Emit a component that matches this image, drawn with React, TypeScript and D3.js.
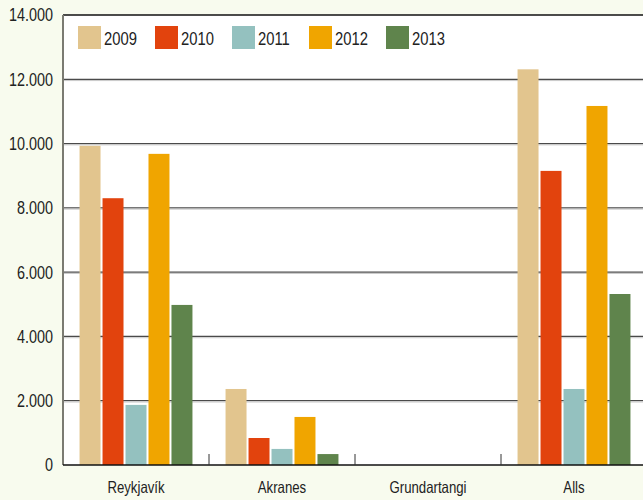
import React from 'react';
import * as d3 from 'd3';

const categories = ['Reykjavík', 'Akranes', 'Grundartangi', 'Alls'];
const years = ['2009', '2010', '2011', '2012', '2013'];
const colors = ['#E2C58E', '#E2430D', '#94C1BF', '#F0A500', '#5F844C'];

// values per category, in the order of years
const reykjavik = [9930, 8300, 1870, 9680, 4980];
const akranes = [2365, 840, 500, 1495, 340];
const grundartangi = [0, 0, 0, 0, 0];
const alls = [12310, 9150, 2365, 11170, 5320];
const seriesByCategory = [reykjavik, akranes, grundartangi, alls];

const yTicks = [0, 2000, 4000, 6000, 8000, 10000, 12000, 14000];

const W = 643;
const H = 500;
const left = 63;
const top = 15;
const bottom = 465;
const font = '"Liberation Sans", Arial, sans-serif';

// no narrow face installed, so squeeze a regular one horizontally
function Narrow({ x, y, children, anchor = 'start', size, dy }: {
    x: number; y: number; children: React.ReactNode; anchor?: string; size: number; dy?: string;
}) {
    return (
        <text transform={`translate(${x},${y}) scale(0.8,1)`} textAnchor={anchor} fontSize={size}
            dy={dy} fill="#222">
            {children}
        </text>
    );
}

export default function App() {
    const x = d3.scaleBand<string>().domain(categories).range([left, left + 146 * 4]);
    const inner = d3.scaleBand<string>().domain(years).range([0, x.bandwidth()])
        .paddingInner(0.087).paddingOuter(0.72);
    const y = d3.scaleLinear().domain([0, 14000]).range([bottom, top]);
    const fmt = (v: number) => d3.format(',')(v).replace(/,/g, '.');

    return (
        <svg width={W} height={H} style={{ position: 'absolute', left: 0, top: 0 }} fontFamily={font}>
            <rect x={0} y={0} width={W} height={H} fill="#F8FBEE" />
            <rect x={left} y={top} width={W - left} height={bottom - top} fill="#ffffff" />

            {/* gridlines */}
            {yTicks.filter(t => t > 0 && t < 14000).map(t => (
                <g key={t}>
                    <line x1={left} x2={W} y1={y(t)} y2={y(t)} stroke="#4a4a4a" strokeWidth={1.2} />
                    <line x1={left} x2={W} y1={y(t) + 1.3} y2={y(t) + 1.3} stroke="#c8c8c8" strokeWidth={1} />
                </g>
            ))}
            <line x1={left} x2={W} y1={top} y2={top} stroke="#111" strokeWidth={1.5} />

            {/* bars */}
            {categories.map((c, ci) => (
                <g key={c} transform={`translate(${x(c)},0)`}>
                    {years.map((yr, yi) => {
                        const v = seriesByCategory[ci][yi];
                        return (
                            <rect key={yr} x={inner(yr)} y={y(v)} width={inner.bandwidth()}
                                height={bottom - y(v)} fill={colors[yi]} />
                        );
                    })}
                </g>
            ))}

            {/* axes */}
            <line x1={left} x2={left} y1={top} y2={bottom} stroke="#7b7b72" strokeWidth={2} />
            <line x1={left} x2={W} y1={bottom} y2={bottom} stroke="#111" strokeWidth={1.5} />
            {categories.map(c => (
                <line key={c} x1={x(c)! + x.bandwidth()} x2={x(c)! + x.bandwidth()} y1={bottom - 11} y2={bottom}
                    stroke="#333" strokeWidth={1} />
            ))}

            {yTicks.map(t => (
                <Narrow key={t} x={53} y={y(t)} dy="0.36em" anchor="end" size={18}>{fmt(t)}</Narrow>
            ))}
            {categories.map(c => (
                <Narrow key={c} x={x(c)! + x.bandwidth() / 2} y={493} anchor="middle" size={16.5}>{c}</Narrow>
            ))}

            {/* legend */}
            {years.map((yr, i) => (
                <g key={yr} transform={`translate(${78 + i * 77},26)`}>
                    <rect width={23} height={23} fill={colors[i]} />
                    <Narrow x={26} y={19} size={18.5}>{yr}</Narrow>
                </g>
            ))}
        </svg>
    );
}
